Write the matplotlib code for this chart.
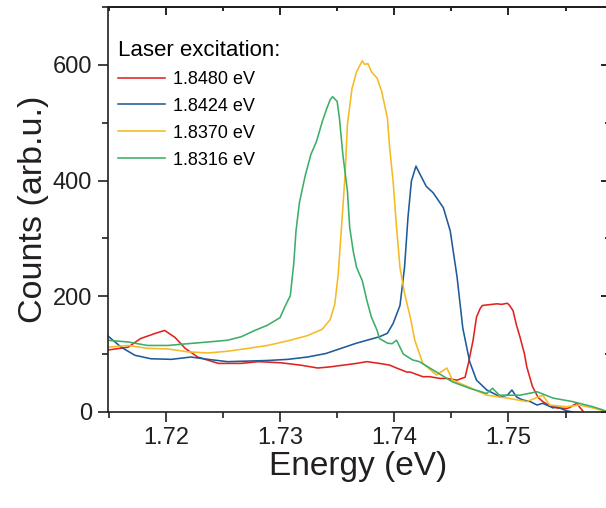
import numpy as np
import matplotlib.pyplot as plt
from matplotlib.ticker import MultipleLocator, AutoMinorLocator

plt.rcParams['font.family'] = ['Liberation Sans', 'DejaVu Sans']

# Spectra (energy in eV, counts in arb.u.)
e_red = [1.7149, 1.7167, 1.7178, 1.7191, 1.7199, 1.7208, 1.7217, 1.7228, 1.7246, 1.7266,
         1.7281, 1.7301, 1.7318, 1.7333, 1.7344, 1.7367, 1.7376, 1.7387, 1.7396, 1.7402,
         1.7411, 1.7414, 1.7425, 1.7431, 1.7440, 1.7446, 1.7455, 1.7459, 1.7462, 1.7465,
         1.7469, 1.7472, 1.7475, 1.7477, 1.7481, 1.7490, 1.7494, 1.7499, 1.7501, 1.7504,
         1.7507, 1.7510, 1.7514, 1.7516, 1.7521, 1.7526, 1.7530, 1.7535, 1.7542, 1.7551,
         1.7554, 1.7557, 1.7560, 1.7562, 1.7565]
c_red = [107, 112, 127, 136, 141, 129, 110, 95, 84, 84,
         87, 85, 81, 76, 78, 84, 87, 84, 81, 76,
         69, 69, 61, 61, 58, 58, 55, 58, 60, 85,
         124, 164, 178, 184, 185, 187, 186, 188, 184, 175,
         150, 130, 100, 78, 44, 25, 18, 12, 7, 6,
         8, 12, 15, 9, 2]

e_blue = [1.7149, 1.7161, 1.7173, 1.7187, 1.7205, 1.7222, 1.7237, 1.7254, 1.7272, 1.7289,
          1.7307, 1.7324, 1.7340, 1.7367, 1.7387, 1.7394, 1.7399, 1.7405, 1.7409, 1.7412,
          1.7415, 1.7419, 1.7422, 1.7428, 1.7434, 1.7443, 1.7449, 1.7455, 1.7460, 1.7466,
          1.7472, 1.7481, 1.7490, 1.7492, 1.7499, 1.7503, 1.7507, 1.7512, 1.7519, 1.7525,
          1.7530, 1.7539, 1.7542, 1.7551, 1.7556]
c_blue = [132, 112, 98, 92, 91, 95, 91, 87, 88, 89,
          91, 95, 101, 119, 130, 136, 153, 184, 250, 336,
          399, 425, 413, 390, 379, 353, 313, 233, 145, 87,
          55, 38, 29, 26, 29, 38, 26, 21, 18, 12,
          15, 7, 9, 2, 0]

e_yellow = [1.7149, 1.7167, 1.7184, 1.7202, 1.7219, 1.7237, 1.7254, 1.7272, 1.7289, 1.7307,
            1.7324, 1.7337, 1.7344, 1.7348, 1.7351, 1.7354, 1.7357, 1.7359, 1.7363, 1.7367,
            1.7372, 1.7374, 1.7377, 1.7380, 1.7385, 1.7389, 1.7394, 1.7396, 1.7399, 1.7402,
            1.7405, 1.7409, 1.7414, 1.7418, 1.7425, 1.7437, 1.7446, 1.7451, 1.7464, 1.7481,
            1.7499, 1.7516, 1.7530, 1.7536, 1.7551, 1.7562, 1.7574, 1.7585]
c_yellow = [112, 115, 110, 109, 104, 102, 105, 110, 115, 123,
            132, 143, 160, 187, 239, 325, 411, 497, 559, 588,
            607, 601, 602, 588, 577, 554, 508, 456, 399, 319,
            250, 205, 164, 124, 84, 64, 76, 55, 44, 29,
            24, 18, 29, 12, 9, 12, 7, 1]

e_green = [1.7149, 1.7167, 1.7184, 1.7202, 1.7219, 1.7237, 1.7254, 1.7266, 1.7278, 1.7289,
           1.7300, 1.7304, 1.7309, 1.7312, 1.7313, 1.7314, 1.7317, 1.7322, 1.7327, 1.7332,
           1.7337, 1.7341, 1.7344, 1.7346, 1.7350, 1.7352, 1.7355, 1.7359, 1.7361, 1.7364,
           1.7367, 1.7372, 1.7376, 1.7380, 1.7385, 1.7387, 1.7394, 1.7398, 1.7402, 1.7408,
           1.7416, 1.7422, 1.7437, 1.7451, 1.7466, 1.7481, 1.7486, 1.7492, 1.7510, 1.7525,
           1.7539, 1.7556, 1.7574, 1.7585]
c_green = [124, 121, 115, 115, 118, 121, 124, 130, 141, 150,
           163, 181, 201, 256, 284, 313, 362, 408, 445, 468,
           502, 525, 540, 545, 537, 508, 445, 382, 319, 279,
           250, 227, 193, 164, 141, 127, 119, 118, 124, 100,
           90, 87, 69, 52, 41, 32, 41, 29, 29, 35,
           24, 18, 9, 2]

labels = ['1.8480 eV', '1.8424 eV', '1.8370 eV', '1.8316 eV']
colors = ['#e0231f', '#1f5b98', '#f5bb22', '#3cae68']

fig = plt.figure(figsize=(6.06, 5.08), dpi=100)
ax = fig.add_axes([0.1774, 0.189, 0.8276, 0.7972])

for e, c, lab, col in zip([e_red, e_blue, e_yellow, e_green],
                          [c_red, c_blue, c_yellow, c_green], labels, colors):
    ax.plot(e, c, color=col, lw=1.15, label=lab)

ax.set_xlim(1.7149, 1.7588)
ax.set_ylim(0, 700)
ax.xaxis.set_major_locator(MultipleLocator(0.01))
ax.xaxis.set_minor_locator(AutoMinorLocator(2))
ax.yaxis.set_major_locator(MultipleLocator(200))
ax.yaxis.set_minor_locator(AutoMinorLocator(2))

for sp in ax.spines.values():
    sp.set_linewidth(1.2)
    sp.set_color('#231f20')
ax.tick_params(which='both', direction='out', width=1.2, color='#231f20',
               labelsize=17, labelcolor='#231f20')
ax.tick_params(which='major', length=7, pad=4)
ax.tick_params(which='minor', length=4)

# mirrored ticks on top / right pointing inward
top = ax.secondary_xaxis('top')
top.xaxis.set_major_locator(MultipleLocator(0.01))
top.xaxis.set_minor_locator(AutoMinorLocator(2))
top.tick_params(which='both', direction='in', width=1.2, labeltop=False)
top.tick_params(which='major', length=6)
top.tick_params(which='minor', length=3)
right = ax.secondary_yaxis('right')
right.yaxis.set_major_locator(MultipleLocator(200))
right.yaxis.set_minor_locator(AutoMinorLocator(2))
right.tick_params(which='both', direction='in', width=1.2, labelright=False)
right.tick_params(which='major', length=6)
right.tick_params(which='minor', length=3)
for s in (top, right):
    for sp in s.spines.values():
        sp.set_linewidth(1.2)

ax.set_xlabel('Energy (eV)', fontsize=24, color='#231f20', labelpad=1)
ax.set_ylabel('Counts (arb.u.)', fontsize=24.5, color='#231f20', labelpad=3)

leg = ax.legend(title='Laser excitation:', loc='upper left', bbox_to_anchor=(0.0, 0.945),
                frameon=False, fontsize=13, title_fontsize=16, handlelength=2.6,
                handletextpad=0.4, labelspacing=0.55, borderaxespad=0.2, alignment='left')
leg._legend_box.sep = 7

fig.savefig('out.png', dpi=100)
